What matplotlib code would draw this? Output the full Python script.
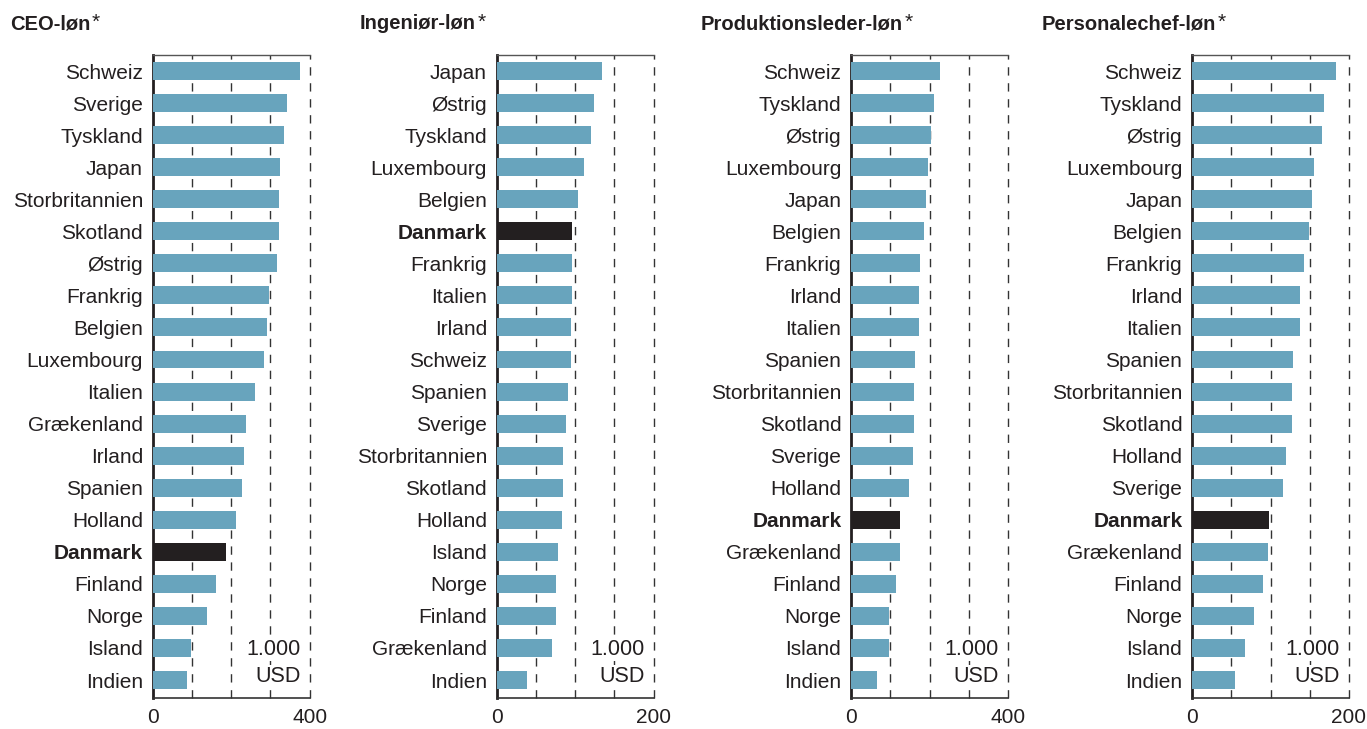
import matplotlib.pyplot as plt
import numpy as np

plt.rcParams['font.family'] = ['Liberation Sans', 'DejaVu Sans']

# CEO-løn
ceo_lande = ['Schweiz', 'Sverige', 'Tyskland', 'Japan', 'Storbritannien', 'Skotland', 'Østrig',
             'Frankrig', 'Belgien', 'Luxembourg', 'Italien', 'Grækenland', 'Irland', 'Spanien',
             'Holland', 'Danmark', 'Finland', 'Norge', 'Island', 'Indien']
ceo_loen = [375, 342, 335, 324, 322, 322, 317, 296, 291, 284, 261, 238, 233, 228, 212,
            187, 161, 138, 98, 87]

# Ingeniør-løn
ing_lande = ['Japan', 'Østrig', 'Tyskland', 'Luxembourg', 'Belgien', 'Danmark', 'Frankrig',
             'Italien', 'Irland', 'Schweiz', 'Spanien', 'Sverige', 'Storbritannien', 'Skotland',
             'Holland', 'Island', 'Norge', 'Finland', 'Grækenland', 'Indien']
ing_loen = [134, 124, 120, 111, 103, 96, 96, 96, 94.5, 94.5, 90.5, 88, 85, 85, 83,
            78, 75, 75, 70, 38]

# Produktionsleder-løn
prod_lande = ['Schweiz', 'Tyskland', 'Østrig', 'Luxembourg', 'Japan', 'Belgien', 'Frankrig',
              'Irland', 'Italien', 'Spanien', 'Storbritannien', 'Skotland', 'Sverige', 'Holland',
              'Danmark', 'Grækenland', 'Finland', 'Norge', 'Island', 'Indien']
prod_loen = [228, 211, 203, 195, 190, 185, 177, 172, 172, 162, 160, 160, 157, 149,
             124, 124, 114, 98, 96, 65]

# Personalechef-løn
pers_lande = ['Schweiz', 'Tyskland', 'Østrig', 'Luxembourg', 'Japan', 'Belgien', 'Frankrig',
              'Irland', 'Italien', 'Spanien', 'Storbritannien', 'Skotland', 'Holland', 'Sverige',
              'Danmark', 'Grækenland', 'Finland', 'Norge', 'Island', 'Indien']
pers_loen = [184, 168.5, 166, 156, 153, 149, 143, 138, 138, 129, 128, 128, 120, 116,
             98, 96.5, 90, 79, 68, 54.5]

titler = ['CEO-løn', 'Ingeniør-løn', 'Produktionsleder-løn', 'Personalechef-løn']
x_max = [400, 200, 400, 200]
enhed = ['1.000', 'USD']

paneler = [(ceo_lande, ceo_loen), (ing_lande, ing_loen),
           (prod_lande, prod_loen), (pers_lande, pers_loen)]

blaa = '#68a4bd'
sort = '#231f20'

fig = plt.figure(figsize=(13.67, 7.29), dpi=100)

ax_left = [152.7, 496.7, 851, 1192]
titel_x = [10, 360, 701, 1042]
W, H = 1367, 729

for i, (lande, loen) in enumerate(paneler):
    ax = fig.add_axes([ax_left[i] / W, 30.7 / H, 157 / W, 643.6 / H])
    y = np.arange(len(lande))
    farver = [sort if l == 'Danmark' else blaa for l in lande]
    ax.barh(y, loen, height=0.56, color=farver, zorder=3)

    m = x_max[i]
    for g in np.linspace(m / 4, m, 4):
        ax.axvline(g, color='#333333', lw=1.0, linestyle=(0, (6, 5.5)),
                   zorder=1, clip_on=False)

    ax.set_xlim(0, m)
    ax.set_ylim(19.57, -0.51)
    ax.set_xticks([0, m])
    ax.set_xticklabels(['0', str(m)])
    ax.set_yticks(y)
    ax.set_yticklabels(lande)
    ax.tick_params(length=0, labelsize=15, colors=sort, pad=7)
    for lbl in ax.get_yticklabels():
        if lbl.get_text() == 'Danmark':
            lbl.set_fontweight('bold')

    ax.spines['right'].set_visible(False)
    ax.spines['left'].set_color(sort)
    ax.spines['left'].set_linewidth(2)
    ax.spines['bottom'].set_color('#333333')
    ax.spines['bottom'].set_linewidth(1.2)
    ax.spines['top'].set_color('#555555')
    ax.spines['top'].set_linewidth(1.0)

    for j, t in enumerate(enhed):
        ax.text(0.94, 18.05 + j * 0.85, t, transform=ax.get_yaxis_transform(),
                ha='right', va='center', fontsize=15.5, color=sort, zorder=4,
                bbox=dict(facecolor='white', edgecolor='none', pad=1))

    tt = fig.text(titel_x[i] / W, 1 - 29 / H, titler[i], fontsize=14.5,
                  fontweight='bold', color=sort, va='baseline')
    fig.add_artist(plt.Annotation('*', xy=(1, 1), xycoords=tt, xytext=(1, 1),
                                  textcoords='offset points', fontsize=15,
                                  color=sort, va='top', ha='left'))

fig.savefig('out.png', dpi=100)
